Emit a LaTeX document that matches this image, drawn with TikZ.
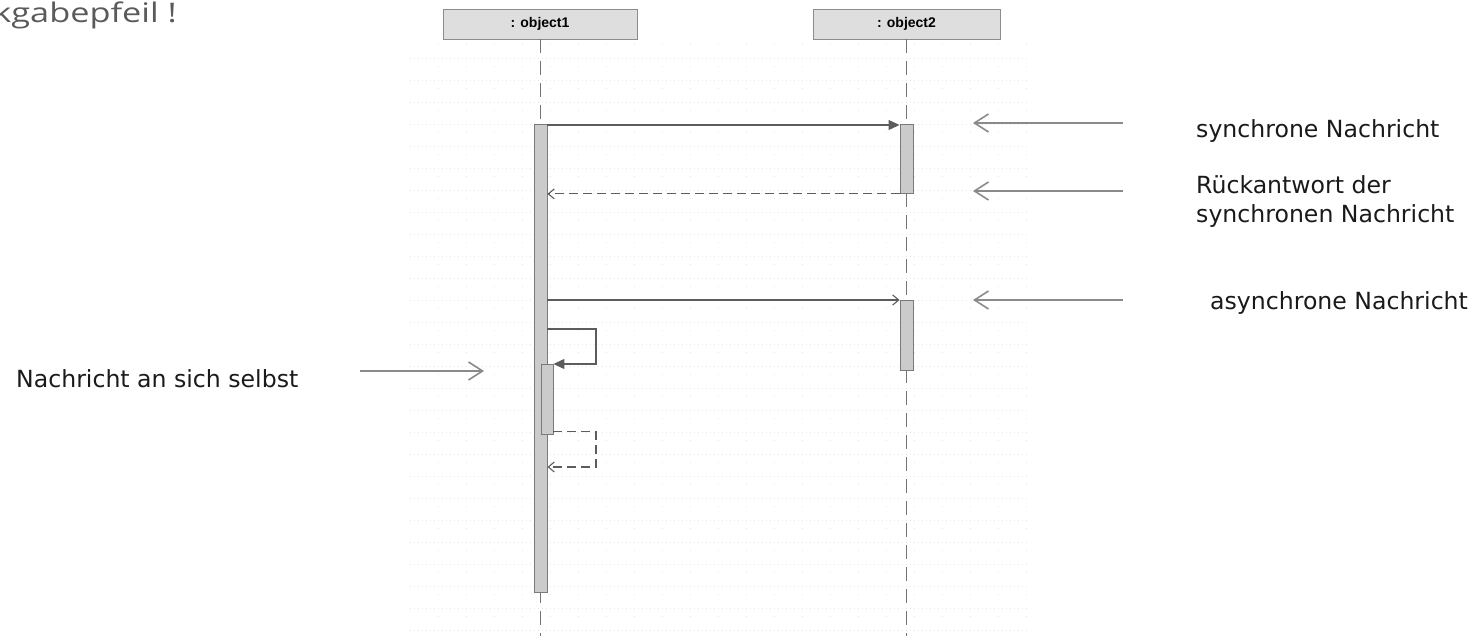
\documentclass[tikz,border=0pt]{standalone}
\usepackage{fontspec}
\usetikzlibrary{arrows.meta}
\newfontfamily\labelfont{DejaVu Sans}
\newfontfamily\headfont{Liberation Sans}
\newfontfamily\titlefont{Open Sans}
\definecolor{ink}{HTML}{1A1A1A}
\definecolor{titlegray}{HTML}{5A5A5A}
\definecolor{linegray}{HTML}{5C5C5C}
\definecolor{notegray}{HTML}{8A8A8A}
\definecolor{barfill}{HTML}{CBCBCB}
\definecolor{barline}{HTML}{7A7A7A}
\definecolor{headfill}{HTML}{DEDEDE}
\definecolor{gridcol}{HTML}{E6E6E6}

\tikzset{
  objbox/.style={draw=black!45, fill=headfill, line width=0.9pt, inner sep=0pt,
    font=\headfont\bfseries\fontsize{14}{16}\selectfont, text=black},
  actbar/.style={draw=barline, fill=barfill, line width=0.9pt, inner sep=0pt, minimum width=13pt},
  lifeline/.style={draw=black!55, line width=1pt, dash pattern=on 14pt off 8pt},
  msg/.style={draw=linegray, line width=1.1pt},
  synctip/.style={msg, -{Triangle[length=11pt,width=10pt]}},
  opentip/.style={msg, -{Straight Barb[length=6pt,width=10pt]}},
  retmsg/.style={opentip, dash pattern=on 9pt off 5pt},
  notearrow/.style={draw=notegray, line width=1.8pt, -{Straight Barb[length=14pt,width=18pt,line width=1.6pt]}},
  notetext/.style={font=\labelfont\fontsize{23.6}{29}\selectfont, text=ink, inner sep=0pt, align=left},
  griddots/.style={draw=gridcol, line width=0.9pt, dash pattern=on 1pt off 3pt},
}

\begin{document}
\begin{tikzpicture}[x=1pt, y=-1pt]
\useasboundingbox (0,0) rectangle (1478,636);

% faint drawing-canvas grid
\foreach \gy in {58,80,...,636}
  \draw[griddots] (410,\gy) -- (1030,\gy);
\foreach \gx in {438,466,...,1030}
  \draw[griddots, dash pattern=on 1pt off 21pt] (\gx,44) -- (\gx,636);

% clipped heading at the top left
\begin{scope}
  \clip (0,0) rectangle (400,40);
  \node[anchor=base east, inner sep=0pt, text=titlegray,
        font=\titlefont\fontsize{27}{30}\selectfont] (heading) at (177,23)
        {\scalebox{1.27}[1]{kgabepfeil !}};
\end{scope}

% object heads
\node[objbox, minimum width=194pt, minimum height=30pt] (o1) at (540,24) {: object1};
\node[objbox, minimum width=187pt, minimum height=30pt] (o2) at (906.5,24) {: object2};
\coordinate (o1end) at (540,636);
\coordinate (o2end) at (906.5,636);

% lifelines
\draw[lifeline] (o1.south) -- (o1end);
\draw[lifeline] (o2.south) -- (o2end);

% activation bars
\node[actbar, anchor=north, minimum height=468pt] (a1) at (540.5,124) {};
\node[actbar, anchor=north, minimum height=69pt] (a2) at (906.5,124) {};
\node[actbar, anchor=north, minimum height=70pt] (a3) at (906.5,300) {};
\node[actbar, anchor=north, minimum width=12pt, minimum height=70pt] (as) at (547,364) {};

% synchronous call and its reply
\draw[synctip] ([yshift=-1pt]a1.north east) -- ([yshift=-1pt]a2.north west);
\draw[retmsg] (a2.south west) -- (a2.south west -| a1.east);

% asynchronous call
\draw[opentip] (a3.north west -| a1.east) -- (a3.north west);

% call to itself and its reply
\coordinate (self1) at (596,329);
\coordinate (self2) at (596,467);
\draw[synctip] (a1.east |- self1) -- (self1) |- (as.north east);
\draw[retmsg] ([yshift=3pt]as.south east) -| (self2) -- (self2 -| a1.east);

% explanatory labels
\node[notetext, anchor=base west] (lsync) at (1196,138) {synchrone Nachricht};
\node[notetext, anchor=base west] (lret) at (1196,194) {Rückantwort der};
\node[notetext, anchor=base west] (lret2) at (1196,222.7) {synchronen Nachricht};
\node[notetext, anchor=base west] (lasync) at (1210,310) {asynchrone Nachricht};
\node[notetext, anchor=base west] (lself) at (16,387) {Nachricht an sich selbst};

% pointers from labels to the diagram
\coordinate (p1a) at (1123,123); \coordinate (p1b) at (973,123);
\coordinate (p2a) at (1123,191); \coordinate (p2b) at (973,191);
\coordinate (p3a) at (1123,300); \coordinate (p3b) at (973,300);
\coordinate (p4a) at (360,371);  \coordinate (p4b) at (484,371);
\draw[notearrow] (p1a) -- (p1b);
\draw[notearrow] (p2a) -- (p2b);
\draw[notearrow] (p3a) -- (p3b);
\draw[notearrow] (p4a) -- (p4b);
\end{tikzpicture}
\end{document}
